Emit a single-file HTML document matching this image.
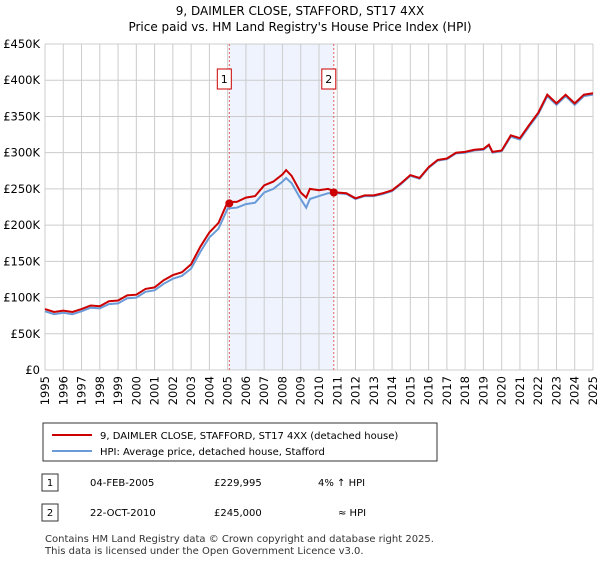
<!DOCTYPE html>
<html><head><meta charset="utf-8"><style>
body{margin:0;background:#fff;font-family:"Liberation Sans","DejaVu Sans",sans-serif;}
svg text{font-family:"DejaVu Sans","Liberation Sans",sans-serif;}
</style></head><body>
<svg width="600" height="560" xmlns="http://www.w3.org/2000/svg" id="chart">
<text x="300" y="15" text-anchor="middle" font-size="12">9, DAIMLER CLOSE, STAFFORD, ST17 4XX</text>
<text x="300" y="31" text-anchor="middle" font-size="12">Price paid vs. HM Land Registry's House Price Index (HPI)</text>
<g id="plot"></g>
<g id="legend">
<rect x="43" y="423" width="394" height="38" fill="#fff" stroke="#333"/>
<line x1="52" y1="435" x2="92" y2="435" stroke="#cc0000" stroke-width="2"/>
<text x="100" y="439" font-size="10">9, DAIMLER CLOSE, STAFFORD, ST17 4XX (detached house)</text>
<line x1="52" y1="451" x2="92" y2="451" stroke="#6a9bd8" stroke-width="2"/>
<text x="100" y="455" font-size="10">HPI: Average price, detached house, Stafford</text>
</g>
<g font-size="10">
<rect x="42" y="474" width="16" height="17" fill="#fff" stroke="#333"/>
<text x="50" y="486" text-anchor="middle">1</text>
<text x="90" y="486">04-FEB-2005</text>
<text x="214" y="486">£229,995</text>
<text x="318" y="486">4% ↑ HPI</text>
<rect x="42" y="504" width="16" height="17" fill="#fff" stroke="#333"/>
<text x="50" y="516" text-anchor="middle">2</text>
<text x="90" y="516">22-OCT-2010</text>
<text x="214" y="516">£245,000</text>
<text x="338" y="516">≈ HPI</text>
</g>
<text x="45" y="542" font-size="10" fill="#333">Contains HM Land Registry data © Crown copyright and database right 2025.</text>
<text x="45" y="554" font-size="10" fill="#333">This data is licensed under the Open Government Licence v3.0.</text>
</svg>
<script>
const years=[1995,1995.5,1996,1996.5,1997,1997.5,1998,1998.5,1999,1999.5,2000,2000.5,2001,2001.5,2002,2002.5,2003,2003.5,2004,2004.5,2005,2005.5,2006,2006.5,2007,2007.5,2008,2008.2,2008.5,2009,2009.3,2009.5,2010,2010.5,2011,2011.5,2012,2012.5,2013,2013.5,2014,2014.5,2015,2015.5,2016,2016.5,2017,2017.5,2018,2018.5,2019,2019.3,2019.5,2020,2020.5,2021,2021.5,2022,2022.5,2023,2023.5,2024,2024.5,2025];
const priceValues=[84,80,82,80,84,89,88,95,96,103,104,112,114,124,131,135,146,170,190,203,232,232,238,240,255,260,270,276,268,245,238,250,248,250,245,244,237,241,241,244,248,258,269,265,280,290,292,300,301,304,305,311,301,303,324,320,338,355,380,368,380,368,380,382];
const hpiValues=[81,77,79,77,81,86,85,91,92,99,100,108,110,119,126,130,140,163,183,195,223,224,229,231,245,250,260,265,258,236,224,236,240,244,244,243,236,240,240,243,247,257,268,264,279,289,291,299,300,303,304,310,300,302,322,318,336,353,378,366,378,366,378,380];
const yTicks=[0,50,100,150,200,250,300,350,400,450];
const yTickLabels=["£0","£50K","£100K","£150K","£200K","£250K","£300K","£350K","£400K","£450K"];
const xTicks=[1995,1996,1997,1998,1999,2000,2001,2002,2003,2004,2005,2006,2007,2008,2009,2010,2011,2012,2013,2014,2015,2016,2017,2018,2019,2020,2021,2022,2023,2024,2025];
const saleDates=[2005.09,2010.81];
const salePrices=[229.995,245];
const saleLabels=["1","2"];
const X0=45,X1=593,Y0=370,Y1=44;
const xs=v=>X0+(v-1995)/30*(X1-X0);
const ys=v=>Y0-v/450*(Y0-Y1);
const NS="http://www.w3.org/2000/svg";
const g=document.getElementById('plot');
function mk(t,a){const e=document.createElementNS(NS,t);for(const k in a)e.setAttribute(k,a[k]);g.appendChild(e);return e;}
let sh=mk('rect',{x:xs(saleDates[0]),y:Y1,width:xs(saleDates[1])-xs(saleDates[0]),height:Y0-Y1,fill:'#eef3fd'});


yTicks.forEach((t,i)=>{
 let l=mk('line',{x1:X0,x2:X1,y1:ys(t),y2:ys(t),stroke:'#cccccc'});
 
 
 let tx=mk('text',{x:X0-5,y:ys(t)+4,'text-anchor':'end','font-size':'11.5'});tx.textContent=yTickLabels[i];
 
 
});
xTicks.forEach(t=>{
 let l=mk('line',{x1:xs(t),x2:xs(t),y1:Y1,y2:Y0,stroke:'#cccccc'});
 
 
 let tx=mk('text',{x:0,y:0,'text-anchor':'end','font-size':'11.5',transform:`translate(${xs(t)+4},${Y0+6}) rotate(-90)`});tx.textContent=t;
 
 
});
saleDates.forEach((d,i)=>{
 let l=mk('line',{x1:xs(d),x2:xs(d),y1:Y1,y2:Y0,stroke:'#e06060','stroke-dasharray':'2,2'});
 
 
 let b=mk('rect',{x:xs(d)-12,y:69,width:14,height:20,fill:'#fff',stroke:'#cc0000'});
 
 
 let tx=mk('text',{x:xs(d)-5,y:83,'text-anchor':'middle','font-size':'11'});tx.textContent=saleLabels[i];
 
 
});
const path=v=>years.map((y,i)=>(i?'L':'M')+xs(y).toFixed(1)+','+ys(v[i]).toFixed(1)).join('');
let hl=mk('path',{d:path(hpiValues),fill:'none',stroke:'#6a9bd8','stroke-width':2});


let pl=mk('path',{d:path(priceValues),fill:'none',stroke:'#cc0000','stroke-width':2});


saleDates.forEach((d,i)=>{
 let c=mk('circle',{cx:xs(d),cy:ys(salePrices[i]),r:4,fill:'#cc0000'});
 
 
});
</script>
</body></html>
